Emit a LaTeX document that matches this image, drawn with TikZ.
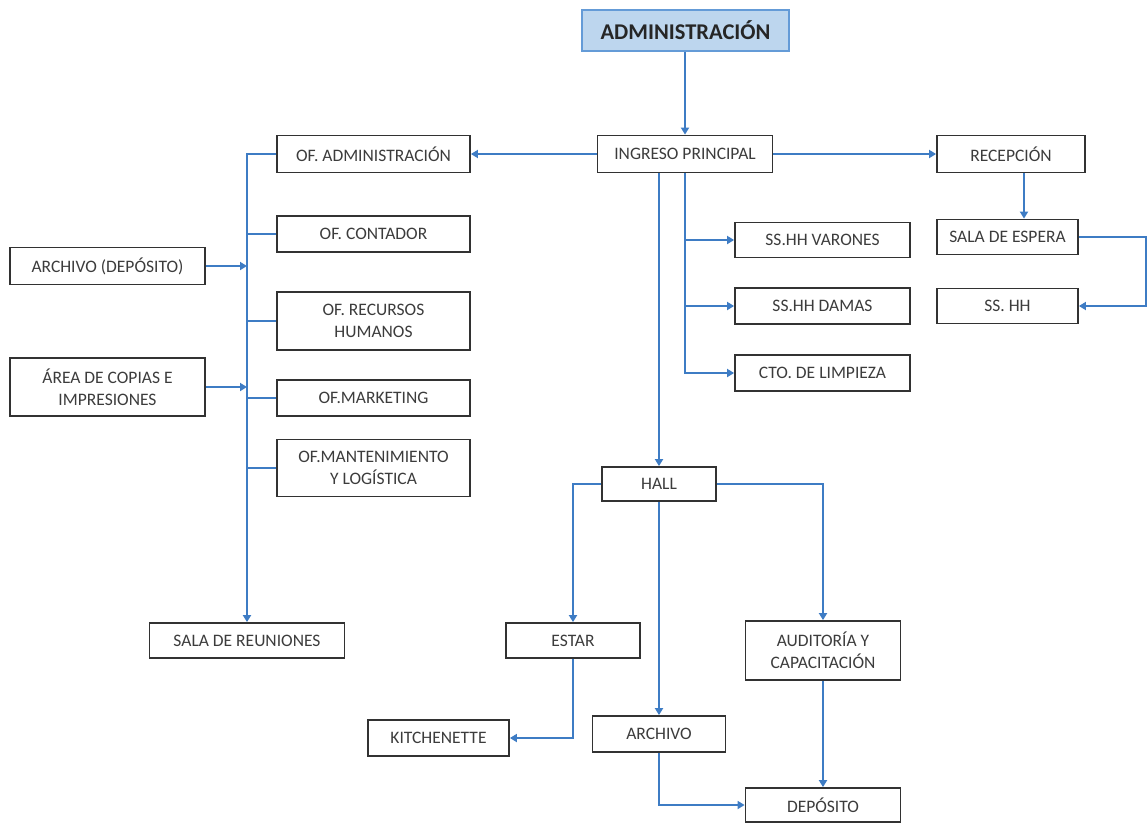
\documentclass[tikz,border=0pt]{standalone}
\usepackage{fontspec}
\setmainfont{Carlito}
\usetikzlibrary{arrows.meta,calc}
\definecolor{conncol}{RGB}{62,124,196}
\definecolor{boxline}{RGB}{50,50,50}
\definecolor{txt}{RGB}{60,60,60}
\definecolor{admfill}{RGB}{189,214,238}
\definecolor{admline}{RGB}{100,155,215}
\begin{document}
\begin{tikzpicture}[x=1pt,y=-1pt,
  box/.style={draw=boxline,line width=1.8pt,fill=white,inner sep=0pt,align=center,
    font=\fontsize{17.5}{22}\selectfont,text=txt},
  admbox/.style={draw=admline,line width=1.8pt,fill=admfill,inner sep=0pt,align=center,
    font=\fontsize{22.5}{26}\selectfont\bfseries,text=black!85},
  conn/.style={draw=conncol,line width=2pt},
  arr/.style={conn,-{Triangle[width=8pt,length=7pt]}}]
\useasboundingbox (0,0) rectangle (1148,823);
\node[admbox,minimum width=207pt,minimum height=41pt] (adm) at (685.5,30.5) {ADMINISTRACIÓN};
\node[box,minimum width=175pt,minimum height=37pt] (ing) at (685,154) {INGRESO PRINCIPAL};
\node[box,minimum width=193pt,minimum height=37pt] (ofadm) at (373.5,154) {OF. ADMINISTRACIÓN};
\node[box,minimum width=148pt,minimum height=37pt] (rec) at (1011,154) {RECEPCIÓN};
\node[box,minimum width=193pt,minimum height=36pt] (ofcon) at (373.5,234) {OF. CONTADOR};
\node[box,minimum width=193pt,minimum height=58pt] (ofrrhh) at (373.5,321) {OF. RECURSOS\\HUMANOS};
\node[box,minimum width=193pt,minimum height=36pt] (ofmkt) at (373.5,398) {OF.MARKETING};
\node[box,minimum width=193pt,minimum height=57pt] (ofmant) at (373.5,468) {OF.MANTENIMIENTO\\Y LOGÍSTICA};
\node[box,minimum width=195pt,minimum height=37pt] (arch1) at (107.5,266) {ARCHIVO (DEPÓSITO)};
\node[box,minimum width=195pt,minimum height=58pt] (area) at (107.5,387) {ÁREA DE COPIAS E\\IMPRESIONES};
\node[box,minimum width=195pt,minimum height=35pt] (salareu) at (247,640.5) {SALA DE REUNIONES};
\node[box,minimum width=175pt,minimum height=35pt] (ssv) at (822.5,240) {SS.HH VARONES};
\node[box,minimum width=175pt,minimum height=36pt] (ssd) at (822.5,306) {SS.HH DAMAS};
\node[box,minimum width=175pt,minimum height=36pt] (cto) at (822.5,373) {CTO. DE LIMPIEZA};
\node[box,minimum width=141pt,minimum height=35pt] (espera) at (1007.5,237) {SALA DE ESPERA};
\node[box,minimum width=141pt,minimum height=35pt] (sshh) at (1007.5,306) {SS. HH};
\node[box,minimum width=114pt,minimum height=34pt] (hall) at (659,484) {HALL};
\node[box,minimum width=134pt,minimum height=35pt] (estar) at (573,640.5) {ESTAR};
\node[box,minimum width=155pt,minimum height=59pt] (audit) at (823,650.5) {AUDITORÍA Y\\CAPACITACIÓN};
\node[box,minimum width=141pt,minimum height=36pt] (kitch) at (438.5,738) {KITCHENETTE};
\node[box,minimum width=133pt,minimum height=36pt] (archivo) at (659,734) {ARCHIVO};
\node[box,minimum width=155pt,minimum height=34pt] (deposito) at (823,805) {DEPÓSITO};
% connectors
\draw[arr] (adm.south -| ing.north) -- (ing.north);
\draw[arr] (ing) -- (ofadm);
\draw[arr] (ing) -- (rec);
\draw[arr] (ofadm.west) -| (salareu.north);
\draw[conn] (ofcon.west) -- (ofcon.west -| salareu.north);
\draw[conn] (ofrrhh.west) -- (ofrrhh.west -| salareu.north);
\draw[conn] (ofmkt.west) -- (ofmkt.west -| salareu.north);
\draw[conn] (ofmant.west) -- (ofmant.west -| salareu.north);
\draw[arr] (arch1.east) -- (arch1.east -| salareu.north);
\draw[arr] (area.east) -- (area.east -| salareu.north);
\draw[arr] (ing.south) |- (cto.west);
\draw[arr] (ing.south |- ssv.west) -- (ssv.west);
\draw[arr] (ing.south |- ssd.west) -- (ssd.west);
\draw[arr] (ing.south -| hall.north) -- (hall.north);
\draw[arr] ([xshift=13pt]rec.south) -- ([xshift=13pt]rec.south |- espera.north);
\draw[arr] (espera.east) -- ++(67,0) |- (sshh.east);
\draw[arr] (hall.west) -| (estar.north);
\draw[arr] (hall.east) -| (audit.north);
\draw[arr] (hall.south) -- (archivo.north);
\draw[arr] (estar.south) |- (kitch.east);
\draw[arr] (archivo.south) |- (deposito.west);
\draw[arr] (audit.south) -- (deposito.north);
\end{tikzpicture}
\end{document}
